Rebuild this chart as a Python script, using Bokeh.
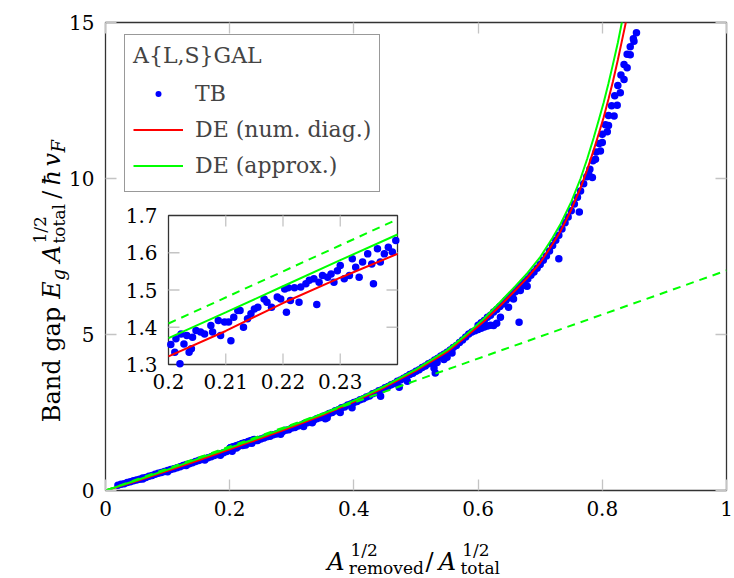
import math
from bokeh.plotting import figure
from bokeh.models import (Range1d, LinearAxis, FixedTicker, Legend,
                          LegendItem, ColumnDataSource)
from bokeh.embed import file_html
from bokeh.resources import INLINE
from bokeh.core.properties import value

# ------------------------------------------------------------------ data
X_TICKS = [0.0, 0.2, 0.4, 0.6, 0.8, 1.0]
X_TICK_LABELS = ["0", "0.2", "0.4", "0.6", "0.8", "1"]
Y_TICKS = [0, 5, 10, 15]

INSET_X_TICKS = [0.2, 0.21, 0.22, 0.23]
INSET_X_TICK_LABELS = ["0.2", "0.21", "0.22", "0.23"]
INSET_Y_TICKS = [1.3, 1.4, 1.5, 1.6, 1.7]
INSET_Y_TICK_LABELS = ["1.3", "1.4", "1.5", "1.6", "1.7"]
INSET_X_RANGE = (0.2, 0.24)
INSET_Y_RANGE = (1.3, 1.7)

CURVE_X = [0.0, 0.05, 0.1, 0.15, 0.2, 0.21, 0.22, 0.23, 0.24, 0.3, 0.35, 0.4,
           0.45, 0.5, 0.55, 0.58, 0.61, 0.636, 0.66, 0.68, 0.70, 0.72, 0.733,
           0.75, 0.765, 0.776, 0.786, 0.795, 0.802, 0.81, 0.817, 0.825, 0.832, 0.84]
DE_NUM_Y = [0.0, 0.30, 0.63, 0.97, 1.322, 1.39, 1.465, 1.533, 1.597, 2.03, 2.42,
            2.84, 3.31, 3.84, 4.44, 4.92, 5.43, 5.93, 6.42, 6.83, 7.30, 7.90,
            8.32, 9.00, 9.70, 10.30, 10.90, 11.48, 11.95, 12.55, 13.10, 13.80,
            14.45, 15.20]
DE_APPROX_Y = [0.0, 0.33, 0.67, 1.02, 1.371, 1.44, 1.51, 1.58, 1.649, 2.08, 2.46,
               2.88, 3.35, 3.88, 4.50, 4.98, 5.52, 6.05, 6.55, 6.98, 7.48, 8.10,
               8.55, 9.25, 10.00, 10.65, 11.30, 11.92, 12.42, 13.05, 13.65, 14.35,
               15.05, 15.85]
DASH_X = [0.0, 0.2, 0.24, 1.0]
DASH_Y = [0.0, 1.41, 1.69, 7.05]

TB_LOW_X = [0.020, 0.025, 0.030, 0.035, 0.040, 0.045, 0.050, 0.055, 0.060, 0.065,
            0.070, 0.075, 0.080, 0.085, 0.090, 0.095, 0.100, 0.105, 0.110, 0.115,
            0.120, 0.125, 0.130, 0.135, 0.140, 0.145, 0.150, 0.155, 0.160, 0.165,
            0.170, 0.175, 0.180, 0.185, 0.190, 0.195,
            0.06, 0.10, 0.13, 0.16, 0.185]
TB_LOW_Y = [0.17, 0.20, 0.22, 0.26, 0.28, 0.31, 0.34, 0.36, 0.40, 0.42,
            0.46, 0.48, 0.52, 0.55, 0.58, 0.61, 0.64, 0.67, 0.70, 0.73,
            0.76, 0.80, 0.83, 0.86, 0.89, 0.93, 0.96, 0.99, 1.02, 1.05,
            1.08, 1.12, 1.15, 1.18, 1.21, 1.25,
            0.37, 0.60, 0.80, 0.98, 1.13]

TB_INSET_X = [0.2004, 0.2013, 0.2020, 0.2011, 0.2022, 0.2027, 0.2032, 0.2036, 0.2040, 0.2042,
              0.2048, 0.2056, 0.2063, 0.2074, 0.2077, 0.2087, 0.2091, 0.2098, 0.2105, 0.2109,
              0.2114, 0.2121, 0.2125, 0.2131, 0.2138, 0.2144, 0.2150, 0.2156, 0.2167, 0.2172,
              0.2180, 0.2190, 0.2196, 0.2203, 0.2206, 0.2209, 0.2213, 0.2220, 0.2228, 0.2231,
              0.2240, 0.2246, 0.2254, 0.2259, 0.2263, 0.2269, 0.2278, 0.2284, 0.2289, 0.2295,
              0.2300, 0.2307, 0.2316, 0.2321, 0.2327, 0.2333, 0.2339, 0.2348, 0.2355, 0.2358,
              0.2365, 0.2370, 0.2377, 0.2384, 0.2391, 0.2397]
TB_INSET_Y = [1.354, 1.369, 1.302, 1.333, 1.382, 1.355, 1.378, 1.333, 1.342, 1.373,
              1.391, 1.387, 1.382, 1.405, 1.387, 1.418, 1.378, 1.414, 1.414, 1.364,
              1.427, 1.445, 1.445, 1.400, 1.423, 1.436, 1.449, 1.454, 1.476, 1.467,
              1.454, 1.481, 1.476, 1.503, 1.440, 1.506, 1.472, 1.506, 1.467, 1.508,
              1.517, 1.526, 1.530, 1.461, 1.521, 1.539, 1.534, 1.543, 1.521, 1.552,
              1.566, 1.530, 1.539, 1.584, 1.561, 1.534, 1.575, 1.597, 1.570, 1.517,
              1.611, 1.575, 1.597, 1.615, 1.602, 1.633]

TB_MID_X = [0.245, 0.25, 0.255, 0.26, 0.265, 0.27, 0.275, 0.28, 0.285, 0.29,
            0.295, 0.30, 0.305, 0.31, 0.315, 0.32, 0.325, 0.33, 0.335, 0.34,
            0.345, 0.35, 0.355, 0.36, 0.365, 0.37, 0.375, 0.38, 0.385, 0.39,
            0.395, 0.40, 0.405, 0.41, 0.415, 0.42, 0.425, 0.43, 0.435, 0.44,
            0.445, 0.45, 0.455, 0.46, 0.465, 0.47, 0.475, 0.48, 0.485, 0.49,
            0.495, 0.50, 0.505, 0.51, 0.515, 0.52, 0.525, 0.53, 0.535, 0.54,
            0.545, 0.55, 0.555, 0.56, 0.565, 0.57, 0.575, 0.58]
TB_MID_Y = [1.60, 1.65, 1.68, 1.72, 1.74, 1.79, 1.81, 1.86, 1.88, 1.93,
            1.95, 2.00, 2.02, 2.07, 2.09, 2.15, 2.17, 2.22, 2.24, 2.30,
            2.33, 2.38, 2.41, 2.47, 2.50, 2.56, 2.59, 2.65, 2.68, 2.74,
            2.77, 2.82, 2.85, 2.91, 2.94, 3.00, 3.03, 3.10, 3.13, 3.20,
            3.23, 3.29, 3.33, 3.39, 3.43, 3.50, 3.54, 3.60, 3.65, 3.72,
            3.76, 3.82, 3.87, 3.94, 3.99, 4.06, 4.11, 4.18, 4.24, 4.31,
            4.37, 4.43, 4.50, 4.58, 4.65, 4.74, 4.82, 4.92]

TB_MID_LOW_X = [0.204, 0.282, 0.319, 0.333, 0.354, 0.357, 0.378, 0.397, 0.443,
                0.473, 0.486, 0.529, 0.531, 0.534, 0.545, 0.55, 0.558]
TB_MID_LOW_Y = [1.26, 1.80, 2.05, 2.17, 2.30, 2.33, 2.50, 2.65, 3.02,
                3.31, 3.50, 3.93, 3.77, 4.10, 4.20, 4.27, 4.41]

TB_BRANCH_X = [0.585, 0.59, 0.595, 0.60, 0.605, 0.61, 0.615, 0.62, 0.625, 0.63, 0.636, 0.666,
               0.60, 0.605, 0.61, 0.615, 0.62, 0.625, 0.63, 0.635, 0.64, 0.645,
               0.649, 0.65, 0.655, 0.657, 0.66, 0.665, 0.668, 0.67, 0.675, 0.676,
               0.679, 0.68, 0.685, 0.69, 0.695, 0.70]
TB_BRANCH_Y = [5.02, 5.08, 5.12, 5.16, 5.20, 5.24, 5.27, 5.30, 5.29, 5.36, 5.55, 5.39,
               5.30, 5.38, 5.45, 5.55, 5.62, 5.72, 5.80, 5.90, 5.98, 6.10,
               5.87, 6.18, 6.28, 6.14, 6.37, 6.48, 6.41, 6.58, 6.68, 6.57,
               6.55, 6.78, 6.90, 7.00, 7.12, 7.24]

TB_HIGH_X = [0.705, 0.71, 0.715, 0.72, 0.725, 0.73, 0.735, 0.74, 0.745, 0.75,
             0.755, 0.76, 0.765, 0.77, 0.775, 0.78, 0.785, 0.79, 0.795, 0.80,
             0.805, 0.81, 0.815, 0.82, 0.825, 0.83, 0.835, 0.84, 0.845, 0.85, 0.855,
             0.730, 0.763, 0.784, 0.797, 0.808,
             0.778, 0.789, 0.80, 0.81, 0.819, 0.824, 0.829, 0.835, 0.840, 0.845, 0.851]
TB_HIGH_Y = [7.38, 7.52, 7.68, 7.85, 8.02, 8.18, 8.38, 8.58, 8.77, 8.97,
             9.18, 9.40, 9.60, 9.83, 10.06, 10.30, 10.57, 10.85, 11.12, 11.42,
             11.72, 12.02, 12.33, 12.65, 12.98, 13.32, 13.65, 13.98, 14.22, 14.48, 14.67,
             7.43, 8.93, 10.03, 10.88, 11.50,
             10.15, 10.62, 11.15, 11.70, 12.00, 12.35, 12.75, 13.17, 13.55, 13.97, 14.40]

TB_X = TB_LOW_X + TB_INSET_X + TB_MID_X + TB_MID_LOW_X + TB_BRANCH_X + TB_HIGH_X
TB_Y = TB_LOW_Y + TB_INSET_Y + TB_MID_Y + TB_MID_LOW_Y + TB_BRANCH_Y + TB_HIGH_Y

# ------------------------------------------------------------------ style
FONT = "DejaVu Serif"
BLUE, RED, GREEN = "#0000ff", "#ff0000", "#00ff00"
FRAME = "#333333"
TICK = "#c4c4c4"
TICK_FS = "20px"

p = figure(width=734, height=578, x_range=Range1d(0, 1), y_range=Range1d(0, 15),
           output_backend="svg", toolbar_location=None,
           min_border_left=105, min_border_right=8, min_border_top=22,
           min_border_bottom=88)
p.xgrid.visible = False
p.ygrid.visible = False
p.outline_line_color = FRAME
p.outline_line_width = 1.3
p.outline_line_alpha = 1.0


def style_axis(ax, ticks, labels=None):
    ax.ticker = FixedTicker(ticks=ticks)
    ax.axis_line_color = None
    ax.major_tick_in = 11
    ax.major_tick_out = 0
    ax.major_tick_line_color = TICK
    ax.major_tick_line_width = 1.3
    ax.minor_tick_line_color = None
    ax.major_label_text_font = FONT
    ax.major_label_text_font_size = TICK_FS
    ax.major_label_text_color = "black"
    if labels is not None:
        ax.major_label_overrides = dict(zip(ticks, labels))


style_axis(p.xaxis[0], X_TICKS, X_TICK_LABELS)
p.xaxis[0].major_label_standoff = 10
style_axis(p.yaxis[0], Y_TICKS)
p.yaxis[0].major_label_standoff = 11

top_ax = LinearAxis()
style_axis(top_ax, X_TICKS, [""] * len(X_TICKS))
p.add_layout(top_ax, "above")
right_ax = LinearAxis()
style_axis(right_ax, Y_TICKS, [""] * len(Y_TICKS))
p.add_layout(right_ax, "right")

# ------------------------------------------------------------------ main glyphs
tb_src = ColumnDataSource(dict(x=TB_X, y=TB_Y))
tb_r = p.scatter("x", "y", source=tb_src, size=7.5, marker="circle",
                 fill_color=BLUE, line_color=None)
red_r = p.line(CURVE_X, DE_NUM_Y, line_color=RED, line_width=2)
green_r = p.line(CURVE_X, DE_APPROX_Y, line_color=GREEN, line_width=2)
p.line(DASH_X, DASH_Y, line_color=GREEN, line_width=2, line_dash="8 6")

# ------------------------------------------------------------------ inset (drawn in main frame)
IB_X0, IB_X1 = (168 - 105) / 621, (397 - 105) / 621
IB_Y0, IB_Y1 = (490 - 364) / 31.2, (490 - 215) / 31.2
kx = (INSET_X_RANGE[1] - INSET_X_RANGE[0]) / (IB_X1 - IB_X0)
ky = (INSET_Y_RANGE[1] - INSET_Y_RANGE[0]) / (IB_Y1 - IB_Y0)
p.extra_x_ranges = {"ix": Range1d(start=INSET_X_RANGE[0] - IB_X0 * kx,
                                  end=INSET_X_RANGE[0] + (1 - IB_X0) * kx)}
p.extra_y_ranges = {"iy": Range1d(start=INSET_Y_RANGE[0] - IB_Y0 * ky,
                                  end=INSET_Y_RANGE[0] + (15 - IB_Y0) * ky)}
IR = dict(x_range_name="ix", y_range_name="iy")

p.quad(left=[INSET_X_RANGE[0]], right=[INSET_X_RANGE[1]],
       bottom=[INSET_Y_RANGE[0]], top=[INSET_Y_RANGE[1]],
       fill_color="white", line_color=FRAME, line_width=1.3, **IR)

px_per_ix = 621 / kx
px_per_iy = 31.2 / ky
tlx = 11 / px_per_ix
tly = 11 / px_per_iy
itx = INSET_X_TICKS[1:]
ity = INSET_Y_TICKS[1:-1]
p.segment(x0=itx, y0=[INSET_Y_RANGE[0]] * len(itx), x1=itx,
          y1=[INSET_Y_RANGE[0] + tly] * len(itx), line_color=TICK, line_width=1.3, **IR)
p.segment(x0=itx, y0=[INSET_Y_RANGE[1]] * len(itx), x1=itx,
          y1=[INSET_Y_RANGE[1] - tly] * len(itx), line_color=TICK, line_width=1.3, **IR)
p.segment(x0=[INSET_X_RANGE[0]] * len(ity), y0=ity, x1=[INSET_X_RANGE[0] + tlx] * len(ity),
          y1=ity, line_color=TICK, line_width=1.3, **IR)
p.segment(x0=[INSET_X_RANGE[1]] * len(ity), y0=ity, x1=[INSET_X_RANGE[1] - tlx] * len(ity),
          y1=ity, line_color=TICK, line_width=1.3, **IR)


def in_box(x, y):
    return (INSET_X_RANGE[0] <= x <= INSET_X_RANGE[1]) and (INSET_Y_RANGE[0] <= y <= INSET_Y_RANGE[1])


ins_tb = [(x, y) for x, y in zip(TB_X, TB_Y) if in_box(x, y)]
p.scatter([a for a, _ in ins_tb], [b for _, b in ins_tb], size=7.5, marker="circle",
          fill_color=BLUE, line_color=None, **IR)
ins_red = [(x, y) for x, y in zip(CURVE_X, DE_NUM_Y) if INSET_X_RANGE[0] <= x <= INSET_X_RANGE[1]]
ins_grn = [(x, y) for x, y in zip(CURVE_X, DE_APPROX_Y) if INSET_X_RANGE[0] <= x <= INSET_X_RANGE[1]]
ins_dsh = [(x, y) for x, y in zip(DASH_X, DASH_Y) if INSET_X_RANGE[0] <= x <= INSET_X_RANGE[1]]
p.line([a for a, _ in ins_red], [b for _, b in ins_red], line_color=RED, line_width=2, **IR)
p.line([a for a, _ in ins_grn], [b for _, b in ins_grn], line_color=GREEN, line_width=2, **IR)
p.line([a for a, _ in ins_dsh], [b for _, b in ins_dsh], line_color=GREEN, line_width=2,
       line_dash="8 6", **IR)

p.text(x=INSET_X_TICKS, y=[INSET_Y_RANGE[0]] * len(INSET_X_TICKS), text=INSET_X_TICK_LABELS,
       text_align="center", text_baseline="top", y_offset=9,
       text_font=value(FONT), text_font_size=value(TICK_FS), text_color="black", **IR)
p.text(x=[INSET_X_RANGE[0]] * len(INSET_Y_TICKS), y=INSET_Y_TICKS, text=INSET_Y_TICK_LABELS,
       text_align="right", text_baseline="middle", x_offset=-11,
       text_font=value(FONT), text_font_size=value(TICK_FS), text_color="black", **IR)

# ------------------------------------------------------------------ legend
legend = Legend(items=[LegendItem(label="TB", renderers=[tb_r]),
                       LegendItem(label="DE (num. diag.)", renderers=[red_r]),
                       LegendItem(label="DE (approx.)", renderers=[green_r])],
                title="A{L,S}GAL", location=(19, 298), padding=8,
                spacing=0, glyph_width=50, glyph_height=15, label_height=36,
                label_standoff=12, label_text_font=FONT, label_text_font_size="22px",
                title_text_font=FONT, title_text_font_size="22px",
                title_text_font_style="normal", title_standoff=7,
                border_line_color=FRAME, border_line_width=1.3,
                background_fill_color="white", background_fill_alpha=1.0)
p.add_layout(legend)


# ------------------------------------------------------------------ axis titles (composed pieces)
def dx(px):
    return (px - 105.0) / 621.0


def dy(py):
    return (490.0 - py) / 31.2


# (text, left x px, baseline y px, size, style) -- horizontal title
X_LABEL_PARTS = [("A", 326.7, 561, 24, "italic"), ("1/2", 350, 549, 17, "normal"),
                 ("removed", 348.3, 567, 17, "normal"), ("/", 425, 561, 24, "normal"),
                 ("A", 438.3, 561, 24, "italic"), ("1/2", 461.7, 549, 17, "normal"),
                 ("total", 460, 567, 17, "normal")]
# (text, start y px, baseline x px, size, style) -- vertical title
Y_LABEL_PARTS = [("Band gap", 421.7, 51.7, 24, "normal"), ("E", 298.3, 51.7, 24, "italic"),
                 ("g", 280, 57.5, 18, "italic"), ("A", 262, 51.7, 24, "italic"),
                 ("1/2", 243, 39, 17, "normal"), ("total", 243, 58.5, 17, "normal"),
                 ("/", 198.3, 51.7, 24, "normal"), ("ħ", 185, 51.7, 24, "italic"),
                 ("v", 166, 51.7, 24, "italic"), ("F", 152, 57.5, 18, "italic")]

lbl = dict(text=[], x=[], y=[], size=[], style=[], angle=[])
for t, px, py, fs, st in X_LABEL_PARTS:
    lbl["text"].append(t); lbl["x"].append(dx(px)); lbl["y"].append(dy(py))
    lbl["size"].append(f"{fs}px"); lbl["style"].append(st); lbl["angle"].append(0.0)
for t, py, px, fs, st in Y_LABEL_PARTS:
    lbl["text"].append(t); lbl["x"].append(dx(px)); lbl["y"].append(dy(py))
    lbl["size"].append(f"{fs}px"); lbl["style"].append(st); lbl["angle"].append(math.pi / 2)

p.text(x="x", y="y", text="text", angle="angle", source=ColumnDataSource(lbl),
       text_font=value(FONT), text_font_size="size", text_font_style="style",
       text_align="left", text_baseline="alphabetic", text_color="black",
       level="overlay")

open("out.html", "w").write(file_html(p, INLINE))
